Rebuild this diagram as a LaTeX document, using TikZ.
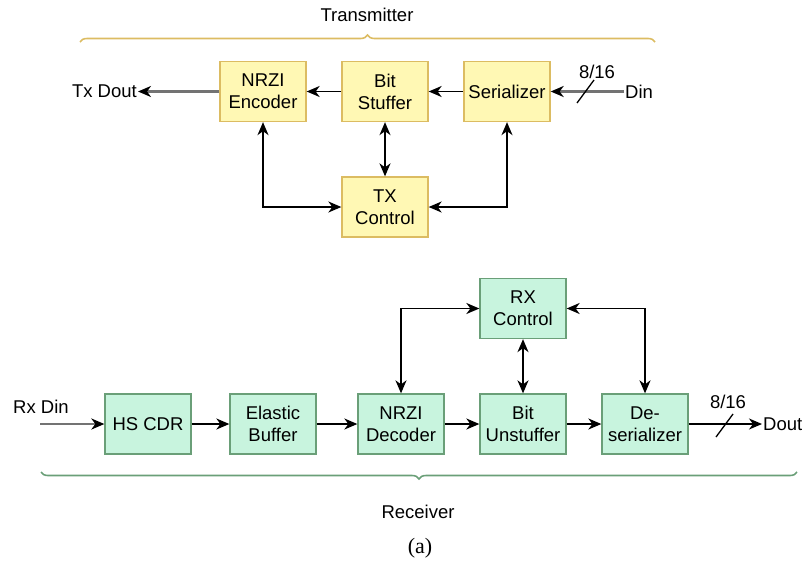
\documentclass[tikz,border=0pt]{standalone}
\usepackage{fontspec}
\setmainfont{Liberation Sans}
\newfontfamily\capfont{Liberation Serif}
\usetikzlibrary{arrows.meta,decorations.pathreplacing}
\definecolor{yfill}{HTML}{FFF8B4}
\definecolor{ydraw}{HTML}{DCBC62}
\definecolor{gfill}{HTML}{C8F4DE}
\definecolor{gdraw}{HTML}{6A9F78}
\tikzset{
  tip/.tip={Stealth[length=13pt,width=11pt,inset=4pt]},
  blk/.style={draw, line width=1.3pt, minimum width=86pt, minimum height=60pt, inner sep=0pt, align=center, font=\fontsize{18.5}{22}\selectfont},
  txb/.style={blk, fill=yfill, draw=ydraw},
  rxb/.style={blk, fill=gfill, draw=gdraw},
  conn/.style={line width=1.6pt, -tip},
  bconn/.style={line width=1.6pt, tip-tip},
  ext/.style={line width=2.2pt, draw=black!55, -{Stealth[length=13pt,width=11pt,inset=4pt,color=black]}},
  lbl/.style={font=\fontsize{18.5}{22}\selectfont, inner sep=1pt},
}
\begin{document}
\begin{tikzpicture}[x=1pt,y=-1pt]
\useasboundingbox (0,0) rectangle (805,568);
% Transmitter
\node[txb] (enc) at (263,91.5) {NRZI\\Encoder};
\node[txb] (stf) at (385,91.5) {Bit\\Stuffer};
\node[txb] (ser) at (507,91.5) {Serializer};
\node[txb] (txc) at (385,207) {TX\\Control};
\node[lbl, anchor=east] (txdout) at (138,91.5) {Tx Dout};
\node[lbl, anchor=west] (din) at (624,91.5) {Din};
\node[lbl] (w1) at (597,72) {8/16};
\draw[conn] (stf.west) -- (enc.east);
\draw[conn] (ser.west) -- (stf.east);
\draw[ext] (enc.west) -- (txdout.east);
\draw[ext] (din.west) -- (ser.east);
\draw[line width=1.3pt] (577,103) -- (594,80);
\draw[bconn] (enc.south) |- (txc.west);
\draw[bconn] (stf.south) -- (txc.north);
\draw[bconn] (ser.south) |- (txc.east);
\draw[decorate, decoration={brace, amplitude=7pt}, draw=ydraw, line width=1.6pt] (80,42) -- (655,42);
\node[lbl] (txl) at (367,15) {Transmitter};
% Receiver
\node[rxb] (cdr) at (148,424) {HS CDR};
\node[rxb] (ebf) at (273,424) {Elastic\\Buffer};
\node[rxb] (dec) at (401,424) {NRZI\\Decoder};
\node[rxb] (ust) at (523,424) {Bit\\Unstuffer};
\node[rxb] (des) at (645,424) {De-\\serializer};
\node[rxb] (rxc) at (523,308.5) {RX\\Control};
\node[lbl, anchor=west] (rxdin) at (12,407) {Rx Din};
\coordinate (rxS) at (40,424);
\node[lbl, anchor=west] (dout) at (762,424) {Dout};
\node[lbl] (w2) at (728,402) {8/16};
\draw[ext] (rxS) -- (cdr.west);
\draw[conn] (cdr.east) -- (ebf.west);
\draw[conn] (ebf.east) -- (dec.west);
\draw[conn] (dec.east) -- (ust.west);
\draw[conn] (ust.east) -- (des.west);
\draw[conn] (des.east) -- (dout.west);
\draw[line width=1.3pt] (716,437) -- (733,414);
\draw[bconn] (dec.north) |- (rxc.west);
\draw[bconn] (ust.north) -- (rxc.south);
\draw[bconn] (des.north) |- (rxc.east);
\draw[decorate, decoration={brace, mirror, amplitude=7pt}, draw=gdraw, line width=1.6pt] (41,472) -- (797,472);
\node[lbl] (rxl) at (418,512) {Receiver};
\node[font=\capfont\fontsize{22}{26}\selectfont] (cap) at (420,548) {(a)};
\end{tikzpicture}
\end{document}
